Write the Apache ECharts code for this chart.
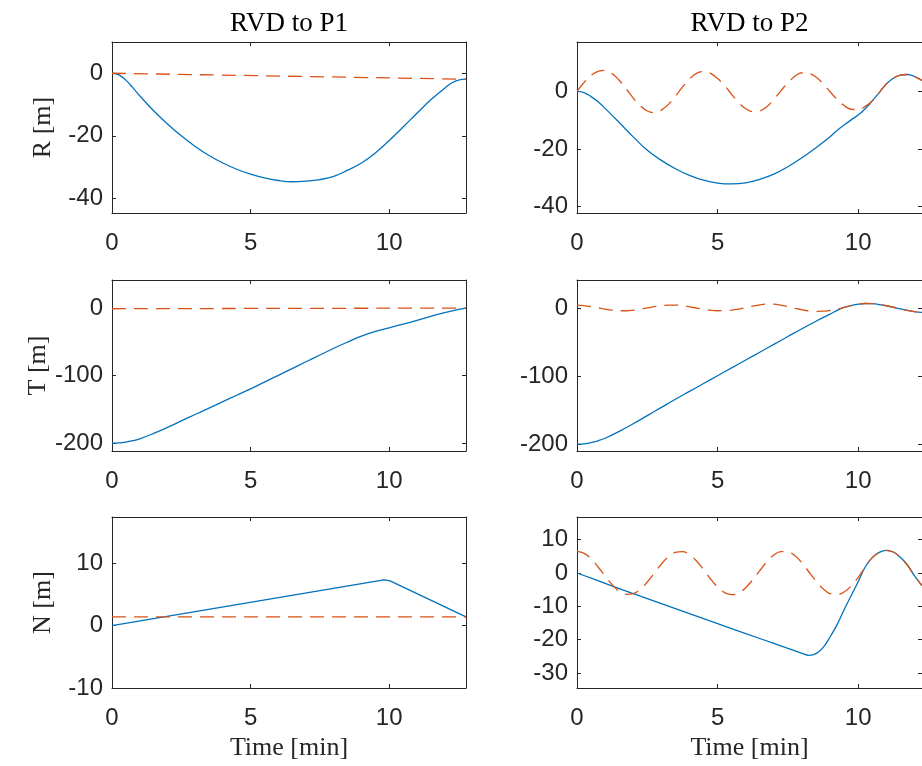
<!DOCTYPE html>
<html>
<head>
<meta charset="utf-8">
<script src="https://cdn.jsdelivr.net/npm/echarts@6/dist/echarts.min.js"></script>
<style>
  html, body { margin: 0; padding: 0; background: #ffffff; }
  #chart { width: 922px; height: 766px; }
</style>
</head>
<body>
<div id="chart"></div>
<script>
// ---- RVD to P1 ----
const P1_R_TIME = [0, 0.25, 0.5, 0.75, 1, 1.5, 2, 2.5, 3, 3.5, 4, 4.5, 5, 5.5, 6, 6.5, 7, 7.5, 8, 8.5, 9, 9.5, 10, 10.5, 11, 11.5, 12, 12.25, 12.5, 12.77];
const P1_R_SOLID = [0, -0.5, -2.2, -4.6, -7.2, -12.0, -16.2, -20.0, -23.4, -26.3, -28.7, -30.7, -32.3, -33.5, -34.3, -34.7, -34.5, -34.0, -33.0, -31.0, -28.7, -25.5, -21.5, -17.2, -12.8, -8.5, -4.8, -3.1, -2.2, -1.9];
const P1_R_DASH_TIME = [0, 12.77];
const P1_R_DASH = [0, -1.9];

const P1_T_TIME = [0, 0.25, 0.5, 0.75, 1, 1.5, 2, 2.5, 3, 3.5, 4, 4.5, 5, 5.5, 6, 6.5, 7, 7.5, 8, 8.5, 9, 9.5, 10, 10.5, 11, 11.5, 12, 12.5, 12.77];
const P1_T_SOLID = [-200, -199.6, -198.3, -196.2, -193.5, -185.5, -176.5, -167, -157.5, -148, -138.5, -129, -119.5, -109.5, -99.5, -89.5, -79.5, -69.5, -59.5, -50.3, -41.6, -34.6, -29.2, -23.8, -18.2, -12.4, -6.6, -2.0, 0];
const P1_T_DASH_TIME = [0, 12.77];
const P1_T_DASH = [-1.0, 0];

const P1_N_TIME = [0, 9.7, 9.8, 9.9, 10.05, 12.77];
const P1_N_SOLID = [0, 7.25, 7.34, 7.3, 7.12, 1.4];
const P1_N_DASH_TIME = [0, 12.77];
const P1_N_DASH = [1.4, 1.4];

// ---- RVD to P2 ----
const P2_DASH_TIME = [0, 0.25, 0.5, 0.75, 1, 1.25, 1.5, 1.75, 2, 2.25, 2.5, 2.75, 3, 3.25, 3.5, 3.75, 4, 4.25, 4.5, 4.75, 5, 5.25, 5.5, 5.75, 6, 6.25, 6.5, 6.75, 7, 7.25, 7.5, 7.75, 8, 8.25, 8.5, 8.75, 9, 9.25, 9.5, 9.75, 10, 10.25, 10.5, 10.75, 11, 11.25, 11.5, 11.75, 12, 12.27];

const P2_R_TIME = [0, 0.25, 0.5, 0.75, 1, 1.5, 2, 2.5, 3, 3.5, 4, 4.5, 5, 5.5, 6, 6.5, 7, 7.5, 8, 8.5, 9, 9.25, 9.5, 9.75, 10, 10.25, 10.5, 10.75, 11, 11.25, 11.5, 11.75, 12, 12.27];
const P2_R_SOLID = [0, -0.4, -1.8, -3.6, -5.9, -10.8, -15.8, -20.5, -24.0, -26.9, -29.2, -30.9, -31.9, -32.2, -31.8, -30.6, -28.8, -26.2, -23.1, -19.6, -15.8, -13.6, -11.7, -9.9, -8.2, -6.0, -3.3, -0.4, 2.6, 4.6, 5.7, 5.9, 5.2, 3.8];
const P2_R_DASH = [0, 3.1, 5.6, 7.0, 7.3, 6.2, 3.9, 0.9, -2.3, -5.0, -6.8, -7.4, -6.5, -4.5, -1.7, 1.5, 4.3, 6.3, 6.9, 6.3, 4.5, 2.0, -1.0, -3.9, -6.0, -7.0, -6.8, -5.3, -2.8, 0.2, 3.0, 5.3, 6.5, 6.3, 5.0, 2.7, -0.1, -2.8, -4.9, -6.2, -6.3, -5.2, -3.3, -0.4, 2.6, 4.6, 5.7, 5.9, 5.2, 3.8];

const P2_T_TIME = [0, 0.25, 0.5, 0.75, 1, 1.5, 2, 2.5, 3, 3.5, 4, 4.5, 5, 5.5, 6, 6.5, 7, 7.5, 8, 8.5, 9, 9.25, 9.5, 9.75, 10, 10.25, 10.5, 10.75, 11, 11.25, 11.5, 11.75, 12, 12.27];
const P2_T_SOLID = [-200, -199.5, -197.8, -195, -191.3, -181.2, -170, -158, -146, -134, -122.5, -111, -99.5, -88, -76.5, -65, -53.5, -42, -30.5, -19.5, -9, -3.5, 0.7, 3.4, 5.5, 6.5, 6.2, 5.0, 3.2, 1.0, -1.4, -3.6, -5.3, -6.4];
const P2_T_DASH = [4.1, 3.3, 1.9, 0.1, -1.8, -3.3, -4.1, -4.1, -3.3, -1.8, 0.1, 1.9, 3.4, 4.2, 4.2, 3.3, 1.7, -0.2, -2.0, -3.4, -4.1, -4.0, -3.3, -1.8, 0.3, 2.7, 4.6, 5.6, 5.5, 4.1, 1.9, -0.5, -2.7, -4.3, -5.0, -4.8, -3.6, -1.7, 0.7, 3.4, 5.5, 6.5, 6.2, 5.0, 3.2, 1.0, -1.4, -3.6, -5.3, -6.4];

const P2_N_TIME = [0, 1, 2, 3, 4, 5, 6, 7, 7.5, 8, 8.25, 8.5, 8.75, 9, 9.25, 9.5, 9.75, 10, 10.25, 10.5, 10.75, 11, 11.25, 11.5, 11.75, 12, 12.27];
const P2_N_SOLID = [0, -3.1, -6.2, -9.2, -12.2, -15.2, -18.2, -21.1, -22.6, -24.1, -24.7, -24.2, -22.4, -19.2, -15.5, -11.0, -6.8, -2.6, 1.8, 4.6, 6.2, 6.8, 6.3, 4.7, 2.4, -0.8, -3.8];
const P2_N_DASH = [6.5, 5.9, 4.3, 1.8, -0.9, -3.5, -5.5, -6.4, -6.2, -4.9, -2.7, 0, 2.7, 4.9, 6.2, 6.4, 5.5, 3.6, 1.0, -1.8, -4.2, -5.9, -6.5, -6.0, -4.4, -2.0, 0.7, 3.4, 5.4, 6.4, 6.3, 5.2, 3.1, 0.3, -2.4, -4.7, -6.2, -6.5, -5.7, -3.9, -1.3, 1.8, 4.6, 6.2, 6.8, 6.3, 4.7, 2.4, -0.8, -3.8];

// ---- tick labels ----
const X_TICKS = [0, 5, 10];
const R_TICKS = [-40, -20, 0];
const T_TICKS = [-200, -100, 0];
const N_TICKS_P1 = [-10, 0, 10];
const N_TICKS_P2 = [-30, -20, -10, 0, 10];

const COLUMN_TITLES = ['RVD to P1', 'RVD to P2'];
const ROW_NAMES = ['R [m]', 'T [m]', 'N [m]'];
const X_NAME = 'Time [min]';

// ---- layout ----
const COL_LEFT = [112, 577];
const ROW_TOP = [42, 280, 517];
const BOX_W = 354;
const BOX_H = 171;
const AXIS_COLOR = '#262626';
const BLUE = '#0072BD';
const ORANGE = '#D95319';
const TICK_FONT = 'Liberation Sans, Arial, Helvetica, sans-serif';
const TEXT_FONT = 'Liberation Serif, Times New Roman, serif';

const panels = [
  { row: 0, col: 0, xMax: 12.77, yMin: -44.7, yMax: 10,    yTicks: R_TICKS,    solid: [P1_R_TIME, P1_R_SOLID], dash: [P1_R_DASH_TIME, P1_R_DASH], curve: 0.4 },
  { row: 0, col: 1, xMax: 12.27, yMin: -42.3, yMax: 17.2,  yTicks: R_TICKS,    solid: [P2_R_TIME, P2_R_SOLID], dash: [P2_DASH_TIME, P2_R_DASH], curve: 0.4 },
  { row: 1, col: 0, xMax: 12.77, yMin: -211.5, yMax: 41.5, yTicks: T_TICKS,    solid: [P1_T_TIME, P1_T_SOLID], dash: [P1_T_DASH_TIME, P1_T_DASH], curve: 0.4 },
  { row: 1, col: 1, xMax: 12.27, yMin: -210, yMax: 41,     yTicks: T_TICKS,    solid: [P2_T_TIME, P2_T_SOLID], dash: [P2_DASH_TIME, P2_T_DASH], curve: 0.4 },
  { row: 2, col: 0, xMax: 12.77, yMin: -10, yMax: 17.4,    yTicks: N_TICKS_P1, solid: [P1_N_TIME, P1_N_SOLID], dash: [P1_N_DASH_TIME, P1_N_DASH], curve: false },
  { row: 2, col: 1, xMax: 12.27, yMin: -34.5, yMax: 16.8,  yTicks: N_TICKS_P2, solid: [P2_N_TIME, P2_N_SOLID], dash: [P2_DASH_TIME, P2_N_DASH], curve: 0.4 }
];

const zip = (t, v) => t.map((x, i) => [x, v[i]]);

const axisLine = { show: true, onZero: false, lineStyle: { color: AXIS_COLOR, width: 1 } };
const tickStyle = (values) => ({ show: true, inside: true, length: 4, customValues: values, lineStyle: { color: AXIS_COLOR, width: 1 } });
const labelStyle = (values, margin) => ({
  show: true, customValues: values, margin: margin,
  fontFamily: TICK_FONT, fontSize: 24, color: AXIS_COLOR
});
const nameStyle = (color, size) => ({ fontFamily: TEXT_FONT, fontSize: size, color: color });

const grids = [], xAxes = [], yAxes = [], series = [];

panels.forEach((p, i) => {
  grids.push({ left: COL_LEFT[p.col], top: ROW_TOP[p.row], width: BOX_W, height: BOX_H, containLabel: false });

  // bottom axis with labels
  xAxes.push({
    type: 'value', gridIndex: i, position: 'bottom', min: 0, max: p.xMax,
    axisLine: axisLine, axisTick: tickStyle(X_TICKS), axisLabel: labelStyle(X_TICKS, 18),
    splitLine: { show: false },
    name: p.row === 2 ? X_NAME : '', nameLocation: 'middle', nameGap: 47,
    nameTextStyle: nameStyle(AXIS_COLOR, 26)
  });
  // top axis: box edge, ticks and column title
  xAxes.push({
    type: 'value', gridIndex: i, position: 'top', min: 0, max: p.xMax,
    axisLine: axisLine, axisTick: tickStyle(X_TICKS), axisLabel: { show: false },
    splitLine: { show: false },
    name: p.row === 0 ? COLUMN_TITLES[p.col] : '', nameLocation: 'middle', nameGap: 5,
    nameTextStyle: nameStyle('#000000', 27)
  });
  // left axis with labels
  yAxes.push({
    type: 'value', gridIndex: i, position: 'left', min: p.yMin, max: p.yMax,
    axisLine: axisLine, axisTick: tickStyle(p.yTicks), axisLabel: labelStyle(p.yTicks, 9),
    splitLine: { show: false },
    name: p.col === 0 ? ROW_NAMES[p.row] : '', nameLocation: 'middle', nameRotate: 90, nameGap: 56,
    nameTextStyle: nameStyle(AXIS_COLOR, 26)
  });
  // right axis: box edge and ticks
  yAxes.push({
    type: 'value', gridIndex: i, position: 'right', min: p.yMin, max: p.yMax,
    axisLine: axisLine, axisTick: tickStyle(p.yTicks), axisLabel: { show: false },
    splitLine: { show: false }
  });

  series.push({
    type: 'line', xAxisIndex: 2 * i, yAxisIndex: 2 * i,
    data: zip(p.solid[0], p.solid[1]),
    symbol: 'none', smooth: p.curve, silent: true, clip: true,
    lineStyle: { color: BLUE, width: 1.3 }, z: 2
  });
  series.push({
    type: 'line', xAxisIndex: 2 * i, yAxisIndex: 2 * i,
    data: zip(p.dash[0], p.dash[1]),
    symbol: 'none', smooth: p.curve, silent: true, clip: true,
    lineStyle: { color: ORANGE, width: 1.3, type: [14, 8] }, z: 3
  });
});

const chart = echarts.init(document.getElementById('chart'), null, { renderer: 'canvas' });
chart.setOption({
  backgroundColor: '#ffffff',
  animation: false,
  grid: grids,
  xAxis: xAxes,
  yAxis: yAxes,
  series: series
});
</script>
</body>
</html>
